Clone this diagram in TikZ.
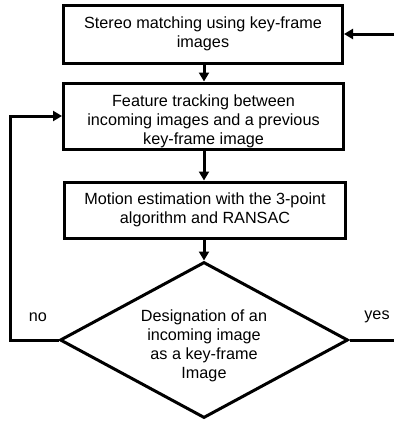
\documentclass[tikz,border=0pt]{standalone}
\usepackage{fontspec}
\setmainfont{Liberation Sans}
\usetikzlibrary{arrows.meta,shapes.geometric}

\tikzset{
  boxtext/.style={align=center, inner sep=0pt, font=\fontsize{16.2}{19}\selectfont},
  procbox/.style={draw, line width=3pt, boxtext},
  decide/.style={draw, diamond, line width=3pt, inner sep=0pt,
    aspect=1.846, minimum width=288pt, minimum height=156pt},
  flow/.style={line width=3pt, -{Triangle[length=9pt,width=10pt]}},
  lbl/.style={font=\fontsize{16.2}{19}\selectfont}
}

\begin{document}
\begin{tikzpicture}[x=1pt,y=-1pt]
    \useasboundingbox (0,0) rectangle (394,426);
    % process steps
    \node[procbox, minimum width=279pt, minimum height=58pt] (stereo) at (203,34)
        {Stereo matching using key-frame\\images};
    \node[procbox, minimum width=280pt, minimum height=66pt] (track) at (203.5,116) {};
    \node[boxtext] (tracktext) at (203.5,121)
        {Feature tracking between\\incoming images and a previous\\key-frame image};
    \node[procbox, minimum width=281pt, minimum height=56pt] (motion) at (205,210)
        {Motion estimation with the 3-point\\algorithm and RANSAC};
    \node[decide] (keyfr) at (204,340) {};
    \node[boxtext] (keyfrtext) at (204,346)
        {Designation of an\\incoming image\\as a key-frame\\Image};
    \coordinate (yesend) at (394,340);
    \coordinate (yesin) at (394,34);
    \coordinate (noturn) at (10,340);
    % connectors
    \draw[flow] (stereo.south -| 204,0) -- (track.north -| 204,0);
    \draw[flow] (track.south -| 204,0) -- (motion.north -| 204,0);
    \draw[flow] (motion.south -| 204,0) -- (keyfr.north);
    \draw[flow] (yesin) -- (stereo.east |- yesin);
    \draw[flow] (keyfr.west) -- (noturn) |- (track.west);
    \draw[line width=3pt] (keyfr.east) -- (yesend);
    \node[lbl] (nolbl) at (38,317) {no};
    \node[lbl] (yeslbl) at (377,317) {yes};
\end{tikzpicture}
\end{document}
